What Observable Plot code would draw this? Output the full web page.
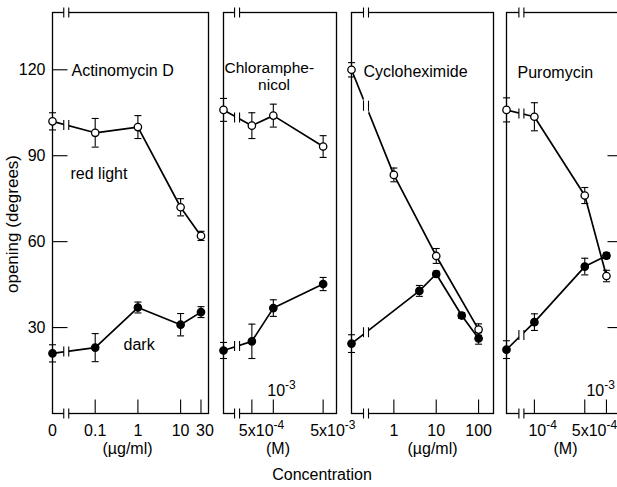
<!DOCTYPE html>
<html><head><meta charset="utf-8">
<script src="https://cdn.jsdelivr.net/npm/d3@7"></script>
<script src="https://cdn.jsdelivr.net/npm/@observablehq/plot@0.6"></script>
<style>
body{margin:0;background:#fff;font-family:"Liberation Sans",Arial,sans-serif;}
#wrap{position:relative;width:617px;height:487px;overflow:hidden;background:#fff;}
#wrap svg{position:absolute;top:0;}
.lab{position:absolute;font-size:16px;color:#000;white-space:nowrap;transform:translate(-50%,-50%);}
</style></head><body><div id="wrap"></div>
<script>
// ---------- data ----------
const actConc = [0, 0.1, 1, 10, 30];
const actRed = [102, 98, 100, 72, 62];
const actRedErr = [3, 5, 4, 3, 1.6];
const actDark = [21, 23, 37, 31, 35.4];
const actDarkErr = [3, 4.9, 1.9, 3.9, 1.9];

const chlConc = [0, 5e-4, 1e-3, 5e-3];
const chlRed = [106, 100.5, 104, 93.2];
const chlRedErr = [4, 4.5, 4, 3.8];
const chlDark = [22, 25.2, 36.8, 45.2];
const chlDarkErr = [2.8, 6, 2.9, 2.3];

const cycRedConc = [0, 1, 10, 100];
const cycRed = [120, 83.3, 55, 29.3];
const cycRedErr = [2.5, 2.4, 2.6, 2];
const cycDarkConc = [0, 4, 10, 40, 100];
const cycDark = [24.4, 42.8, 48.7, 34.2, 26.2];
const cycDarkErr = [3.1, 1.9, 1, 1, 2];

const purConc = [0, 1e-4, 5e-4, 1e-3];
const purRed = [106, 103.6, 76.1, 48];
const purRedErr = [4.2, 4.9, 2.8, 2];
const purDark = [22.3, 31.9, 51.3, 55.1];
const purDarkErr = [3.1, 2.9, 2.9, 1];

const yTicks = [30, 60, 90, 120];
const yTicksRight = [30, 60, 90];
const actTicks = [0, 0.1, 1, 10, 30];
const actTickLabels = ["0", "0.1", "1", "10", "30"];
const chlTicks = [5e-4, 1e-3, 5e-3];
const chlTickLabels = ["5x10⁻⁴", "10⁻³", "5x10⁻³"];
const cycTicks = [1, 10, 100];
const cycTickLabels = ["1", "10", "100"];
const purTicks = [1e-4, 5e-4, 1e-3];
const purTickLabels = ["10⁻⁴", "5x10⁻⁴", "10⁻³"];
const drugNames = ["Actinomycin D", "Chloramphe-\nnicol", "Cycloheximide", "Puromycin"];
const units = ["(µg/ml)", "(M)", "(µg/ml)", "(M)"];
const seriesNames = ["red light", "dark"];
const yLabel = "opening (degrees)";
const xLabel = "Concentration";

// ---------- helpers ----------
const sym = f => ({draw(c) { f(c); }});
const capSym = sym(c => { c.moveTo(-3.5, 0); c.lineTo(3.5, 0); });
const yTickIn = sym(c => { c.moveTo(0, 0); c.lineTo(15, 0); });
const yTickInR = sym(c => { c.moveTo(0, 0); c.lineTo(-15, 0); });
const xTickIn = sym(c => { c.moveTo(0, 0); c.lineTo(0, -14); });
const gapSym = sym(c => { c.rect(-2.5, -7, 5, 14); });
const brkSym = sym(c => { c.moveTo(-2.5, -5); c.lineTo(-2.5, 5); c.moveTo(2.5, -5); c.lineTo(2.5, 5); });
const FONT = "'Liberation Sans', Arial, sans-serif";
const wrap = document.getElementById("wrap");
const supMap = {"⁻": "-", "³": "3", "⁴": "4"};

function superscripts(svg) {
  svg.querySelectorAll("text").forEach(el => {
    const s = el.textContent;
    const i = s.indexOf("⁻");
    if (i < 0) return;
    const base = s.slice(0, i), sup = [...s.slice(i)].map(ch => supMap[ch] || ch).join("");
    el.textContent = "";
    el.appendChild(document.createTextNode(base));
    const ts = document.createElementNS("http://www.w3.org/2000/svg", "tspan");
    ts.setAttribute("dy", "-7");
    ts.setAttribute("font-size", "12");
    ts.textContent = sup;
    el.appendChild(ts);
  });
}

function panel(cfg) {
  const {frameL, frameR, mL, mR, zero, max, brk, series, ticks, tickLabels, inside, titleMarks, unit, unitDx, tickDx, extra} = cfg;
  const X = c => c === 0 ? zero : c;
  const rows = series.flatMap(s => s.conc.map((c, i) => ({x: X(c), y: s.v[i], e: s.err[i], s: s.name})));
  const cross = [{y: 0}, {y: 140}];
  for (const s of series) {
    const x0 = X(s.conc[0]), x1 = s.conc[1];
    const t = (Math.log(brk) - Math.log(x0)) / (Math.log(x1) - Math.log(x0));
    cross.push({y: s.v[0] + t * (s.v[1] - s.v[0])});
  }
  const tickTextMarks = ticks.map((v, i) => {
    const t = tickLabels[i];
    const isIn = inside.includes(t);
    const sup = t.includes("⁻");
    return Plot.text([v], {x: d => X(d), text: () => t, frameAnchor: "bottom", lineAnchor: "middle",
      dy: isIn ? -23 : 17, dx: tickDx(t), textAnchor: sup ? "start" : "middle", fontSize: 16});
  });
  const width = mL + (frameR - frameL) + mR;
  const svg = Plot.plot({
    width, height: 487, marginLeft: mL, marginRight: mR, marginTop: 12, marginBottom: 74,
    x: {type: "log", domain: [zero, max], axis: null},
    y: {domain: [0, 140], axis: null},
    style: {background: "transparent", overflow: "visible", fontFamily: FONT, fontSize: "16px", color: "black"},
    marks: [
      Plot.line(rows, {x: "x", y: "y", z: "s", stroke: "black", strokeWidth: 1.7}),
      Plot.frame({stroke: "black", strokeWidth: 1.3}),
      Plot.dot(cross, {x: () => brk, y: "y", symbol: gapSym, fill: "white", stroke: "none"}),
      Plot.dot(cross, {x: () => brk, y: "y", symbol: brkSym, fill: "none", stroke: "black", strokeWidth: 1.1}),
      Plot.dot(ticks.filter(d => d > 0), {x: d => d, frameAnchor: "bottom", symbol: xTickIn, fill: "none", stroke: "black", strokeWidth: 1.1}),
      Plot.ruleX(rows, {x: "x", y1: d => d.y - d.e, y2: d => d.y + d.e, stroke: "black", strokeWidth: 1.1}),
      Plot.dot(rows, {x: "x", y: d => d.y - d.e, symbol: capSym, fill: "none", stroke: "black", strokeWidth: 1.1}),
      Plot.dot(rows, {x: "x", y: d => d.y + d.e, symbol: capSym, fill: "none", stroke: "black", strokeWidth: 1.1}),
      Plot.dot(rows, {x: "x", y: "y", r: 3.7, fill: d => d.s === "dark" ? "black" : "white", stroke: "black", strokeWidth: 1.3}),
      ...tickTextMarks,
      Plot.text([unit], {text: d => d, frameAnchor: "bottom", lineAnchor: "middle", dy: 35, dx: unitDx, fontSize: 16}),
      ...titleMarks,
      ...extra
    ]
  });
  superscripts(svg);
  svg.style.left = (frameL - mL) + "px";
  wrap.appendChild(svg);
}

const label = (txt, anchor, dx, dy, textAnchor, fs = 16) =>
  Plot.text([txt], {text: d => d, frameAnchor: anchor, dx, dy, textAnchor, lineAnchor: "middle", fontSize: fs});
const supDx = t => t.startsWith("5") ? -13 : (t.includes("⁻") ? -6 : 0);
const chlTitle = drugNames[1].split("\n");

panel({
  frameL: 52, frameR: 208, mL: 52, mR: 14, zero: 0.01, max: 45, brk: 0.021,
  series: [{name: "red", conc: actConc, v: actRed, err: actRedErr}, {name: "dark", conc: actConc, v: actDark, err: actDarkErr}],
  ticks: actTicks, tickLabels: actTickLabels, inside: [],
  titleMarks: [label(drugNames[0], "top-left", 19, 58, "start")],
  unit: units[0], unitDx: -3, tickDx: t => t === "30" ? 4 : 0,
  extra: [
    Plot.dot(yTicks, {y: d => d, frameAnchor: "left", symbol: yTickIn, fill: "none", stroke: "black", strokeWidth: 1.1}),
    Plot.text(yTicks, {y: d => d, text: d => String(d), frameAnchor: "left", textAnchor: "end", lineAnchor: "middle", dx: -7, fontSize: 16}),
    label(seriesNames[0], "top-left", 18, 161, "start"),
    label(seriesNames[1], "top-left", 71, 332, "start")
  ]
});

panel({
  frameL: 223, frameR: 336, mL: 10, mR: 20, zero: 2e-4, max: 7.7e-3, brk: 3.1e-4,
  series: [{name: "red", conc: chlConc, v: chlRed, err: chlRedErr}, {name: "dark", conc: chlConc, v: chlDark, err: chlDarkErr}],
  ticks: chlTicks, tickLabels: chlTickLabels, inside: ["10⁻³"],
  titleMarks: [label(chlTitle[0], "top-left", 1, 56, "start", 15.5), label(chlTitle[1], "top", -6, 73, "middle", 15.5)],
  unit: units[1], unitDx: -2, tickDx: supDx, extra: []
});

panel({
  frameL: 351, frameR: 493, mL: 10, mR: 10, zero: 0.1, max: 225, brk: 0.22,
  series: [{name: "red", conc: cycRedConc, v: cycRed, err: cycRedErr}, {name: "dark", conc: cycDarkConc, v: cycDark, err: cycDarkErr}],
  ticks: cycTicks, tickLabels: cycTickLabels, inside: [],
  titleMarks: [label(drugNames[2], "top-left", 12, 59, "start")],
  unit: units[2], unitDx: 10, tickDx: () => 0, extra: []
});

panel({
  frameL: 506, frameR: 622, mL: 10, mR: 10, zero: 4.1e-5, max: 1.67e-3, brk: 6.6e-5,
  series: [{name: "red", conc: purConc, v: purRed, err: purRedErr}, {name: "dark", conc: purConc, v: purDark, err: purDarkErr}],
  ticks: purTicks, tickLabels: purTickLabels, inside: ["10⁻³"],
  titleMarks: [label(drugNames[3], "top-left", 11, 60, "start")],
  unit: units[3], unitDx: 1, tickDx: t => t === "10⁻³" ? -20 : supDx(t),
  extra: [
    Plot.dot(yTicksRight, {y: d => d, frameAnchor: "right", symbol: yTickInR, fill: "none", stroke: "black", strokeWidth: 1.1})
  ]
});

// axis titles
const yl = document.createElement("div");
yl.className = "lab"; yl.textContent = yLabel;
yl.style.cssText = "left:13px;top:224px;font-size:17px;transform:translate(-50%,-50%) rotate(-90deg);";
wrap.appendChild(yl);
const xl = document.createElement("div");
xl.className = "lab"; xl.textContent = xLabel;
xl.style.left = "322px"; xl.style.top = "475px";
wrap.appendChild(xl);
</script>
</body></html>
